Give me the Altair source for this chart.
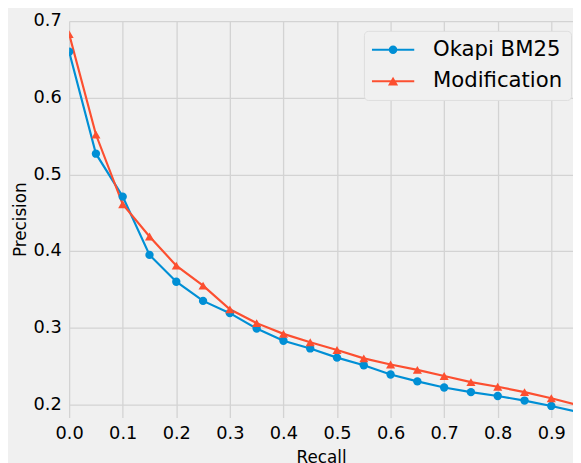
import altair as alt
import pandas as pd

recall = [0.0, 0.05, 0.1, 0.15, 0.2, 0.25, 0.3, 0.35, 0.4, 0.45, 0.5,
          0.55, 0.6, 0.65, 0.7, 0.75, 0.8, 0.85, 0.9, 0.95]
bm25 = [0.660, 0.527, 0.471, 0.395, 0.360, 0.335, 0.319, 0.299, 0.283, 0.273,
        0.261, 0.251, 0.239, 0.230, 0.222, 0.216, 0.211, 0.205, 0.198, 0.190]
modification = [0.683, 0.552, 0.461, 0.419, 0.381, 0.355, 0.324, 0.306, 0.292, 0.281,
                0.271, 0.260, 0.252, 0.245, 0.237, 0.229, 0.223, 0.216, 0.208, 0.199]
series_names = ["Okapi BM25", "Modification"]
colors = ["#008fd5", "#fc4f30"]
x_ticks = [0.0, 0.1, 0.2, 0.3, 0.4, 0.5, 0.6, 0.7, 0.8, 0.9]
y_ticks = [0.2, 0.3, 0.4, 0.5, 0.6, 0.7]

rows = []
for name, vals in zip(series_names, [bm25, modification]):
    for r, p in zip(recall, vals):
        rows.append({"Recall": r, "Precision": p, "series": name, "legend_series": name})
df = pd.DataFrame(rows)

FONT = "DejaVu Sans"

x = alt.X("Recall:Q", title="Recall",
          scale=alt.Scale(domain=[0, 0.9405], nice=False, zero=False),
          axis=alt.Axis(values=x_ticks, format=".1f", labelPadding=7,
                        titlePadding=8, labelFlush=False, labelOverlap=False,
                        labelBound=False))
y = alt.Y("Precision:Q", title="Precision",
          scale=alt.Scale(domain=[0.183, 0.7], nice=False, zero=False),
          axis=alt.Axis(values=y_ticks, format=".1f", labelPadding=8,
                        titlePadding=4, labelFlush=False, labelOverlap=False,
                        labelBound=False))

color_scale = alt.Scale(domain=series_names, range=colors)
color = alt.Color("series:N", scale=color_scale, legend=None)

base = alt.Chart(df)

lines = base.mark_line(strokeWidth=2.2, clip=True).encode(
    x=x, y=y, color=color, detail="series:N")

pts_bm25 = base.transform_filter(alt.datum.series == series_names[0]).mark_point(
    filled=True, opacity=1, clip=True, shape="circle", size=72).encode(
    x=x, y=y, color=color)

pts_mod = base.transform_filter(alt.datum.series == series_names[1]).mark_point(
    filled=True, opacity=1, clip=True, shape="triangle-up", size=85).encode(
    x=x, y=y, color=color)

d = 0.047
bar = f"M-1,-{d}L1,-{d}L1,{d}L-1,{d}Z"
circle_sym = bar + "M0.2,0A0.2,0.2,0,1,1,-0.2,0A0.2,0.2,0,1,1,0.2,0Z"
tri_sym = bar + "M0,-0.21L0.24,0.2L-0.24,0.2Z"

legend = alt.Legend(title=None, orient="none", legendX=299, legendY=10,
                    symbolSize=1849, symbolStrokeWidth=0, clipHeight=22,
                    rowPadding=10, labelOffset=19, labelFontSize=21.5,
                    labelFont=FONT, labelColor="black", padding=8,
                    fillColor="#f0f0f0", strokeColor="#dddddd",
                    cornerRadius=4, symbolOpacity=1)

legend_layer = base.transform_filter("false").mark_point(filled=True).encode(
    x=x, y=y,
    color=alt.Color("legend_series:N", scale=color_scale, legend=legend),
    shape=alt.Shape("legend_series:N",
                    scale=alt.Scale(domain=series_names, range=[circle_sym, tri_sym]),
                    legend=legend),
)

chart = alt.layer(lines, pts_bm25, pts_mod, legend_layer).resolve_scale(
    color="independent", shape="independent"
).properties(
    width=511, height=402,
    background="#f0f0f0",
    autosize=alt.AutoSizeParams(type="none"),
    padding={"left": 62, "top": 10, "right": 0, "bottom": 45},
).configure_view(
    fill="#f0f0f0", stroke=None
).configure_axis(
    domain=False, ticks=False, grid=True, gridColor="#d3d3d3", gridWidth=1.3,
    labelFont=FONT, labelFontSize=18, labelColor="black",
    titleFont=FONT, titleFontSize=17, titleColor="black", titleFontWeight="normal",
)

chart.save("out.html", embed_options={"renderer": "svg", "actions": False})
